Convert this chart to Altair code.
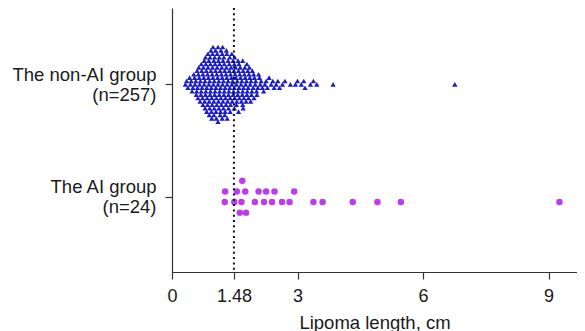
import altair as alt
import pandas as pd

# ---------------- data ----------------
groups = ["The non-AI group", "The AI group"]
group_n = [257, 24]
cutoff = 1.48
x_ticks = [0, 1.48, 3, 6, 9]
x_title = "Lipoma length, cm"

non_ai_values = [
    0.32, 0.35, 0.38,
    0.42, 0.44, 0.46, 0.48,
    0.50, 0.52, 0.54, 0.55, 0.57, 0.58, 0.59,
    0.60, 0.61, 0.62, 0.63, 0.64, 0.65, 0.66, 0.67, 0.68, 0.69,
    0.70, 0.70, 0.71, 0.72, 0.73, 0.74, 0.74, 0.75, 0.76, 0.77, 0.77, 0.78, 0.79, 0.79,
    0.80, 0.80, 0.81, 0.81, 0.82, 0.83, 0.83, 0.84, 0.85, 0.85, 0.86, 0.86, 0.87, 0.88, 0.88, 0.89, 0.89,
    0.90, 0.90, 0.91, 0.91, 0.92, 0.92, 0.93, 0.93, 0.94, 0.94, 0.95, 0.95, 0.96, 0.96, 0.97, 0.97, 0.98, 0.98, 0.99,
    1.00, 1.00, 1.00, 1.01, 1.01, 1.02, 1.02, 1.03, 1.03, 1.04, 1.04, 1.05, 1.05, 1.06, 1.06, 1.07, 1.07, 1.08, 1.08, 1.09,
    1.10, 1.10, 1.10, 1.11, 1.11, 1.12, 1.12, 1.13, 1.13, 1.14, 1.14, 1.15, 1.15, 1.16, 1.16, 1.17, 1.17, 1.18, 1.18, 1.19,
    1.20, 1.20, 1.20, 1.21, 1.21, 1.22, 1.22, 1.23, 1.23, 1.24, 1.24, 1.25, 1.25, 1.26, 1.26, 1.27, 1.27, 1.28, 1.29, 1.29,
    1.30, 1.30, 1.31, 1.31, 1.32, 1.32, 1.33, 1.34, 1.34, 1.35, 1.35, 1.36, 1.37, 1.37, 1.38, 1.38, 1.39, 1.39,
    1.40, 1.40, 1.41, 1.42, 1.43, 1.43, 1.44, 1.45, 1.46, 1.46, 1.47, 1.48, 1.49, 1.49, 1.49,
    1.50, 1.50, 1.51, 1.52, 1.53, 1.54, 1.54, 1.55, 1.56, 1.57, 1.58, 1.58, 1.59, 1.59,
    1.60, 1.60, 1.61, 1.62, 1.63, 1.64, 1.65, 1.66, 1.67, 1.68, 1.69, 1.69, 1.69,
    1.70, 1.70, 1.71, 1.72, 1.73, 1.74, 1.75, 1.76, 1.77, 1.78, 1.79, 1.79,
    1.80, 1.81, 1.82, 1.83, 1.84, 1.85, 1.86, 1.87, 1.88, 1.89,
    1.90, 1.91, 1.92, 1.94, 1.95, 1.96, 1.97, 1.99,
    2.00, 2.02, 2.03, 2.05, 2.07, 2.09,
    2.11, 2.13, 2.16, 2.19,
    2.22, 2.25, 2.28,
    2.32, 2.37,
    2.41, 2.44,
    2.49, 2.53, 2.57, 2.64, 2.70, 2.83, 2.95, 3.00, 3.09, 3.15, 3.18,
    3.31, 3.38, 3.46, 3.85, 6.76,
]

ai_values = [
    1.26, 1.27, 1.49, 1.55, 1.62, 1.66, 1.68, 1.75, 1.77, 1.98, 2.07, 2.20,
    2.25, 2.39, 2.45, 2.63, 2.81, 2.92, 3.38, 3.60, 4.32, 4.91, 5.47, 9.26,
]

# ---------------- layout ----------------
W, H = 405, 264
X_MAX = 9.68
Y_DOM = [0.33, 2.68]
px_x = W / X_MAX
px_y = H / (Y_DOM[1] - Y_DOM[0])


def swarm(values, pitch, min_dx, center_row):
    """Deterministic beeswarm: each point takes the nearest free row slot."""
    if center_row:
        slots = [0]
        for k in range(1, 60):
            slots += [k, -k]
    else:
        slots = []
        for k in range(0, 60):
            slots += [-(k + 0.5), k + 0.5]
    occupied = {}
    offs = [0.0] * len(values)
    for i in sorted(range(len(values)), key=lambda j: values[j]):
        xp = values[i] * px_x
        for s in slots:
            if all(abs(xp - o) >= min_dx for o in occupied.get(s, [])):
                occupied.setdefault(s, []).append(xp)
                offs[i] = s * pitch
                break
    return offs


non_off = swarm(non_ai_values, 3.4, 4.6, True)
ai_off = swarm(ai_values, 10.6, 5.8, False)

df_non = pd.DataFrame({
    "value": non_ai_values,
    "ypos": [2 + o / px_y for o in non_off],
})
df_ai = pd.DataFrame({
    "value": ai_values,
    "ypos": [1 + o / px_y for o in ai_off],
})
df_cut = pd.DataFrame({"value": [cutoff]})

FONT = "Liberation Sans"
TXT = "#1a1a1a"

label_expr = (
    f"datum.value == 2 ? ['{groups[0]}', '(n={group_n[0]})'] : "
    f"datum.value == 1 ? ['{groups[1]}', '(n={group_n[1]})'] : ''"
)

x_enc = alt.X(
    "value:Q",
    scale=alt.Scale(domain=[0, X_MAX], nice=False, zero=True),
    axis=alt.Axis(
        values=x_ticks, labelExpr="'' + datum.value", title=x_title, grid=False,
        labelFlush=False, labelOverlap=False,
        tickSize=7, labelPadding=8, titlePadding=8,
        labelFontSize=18, titleFontSize=18.5, titleFontWeight="normal",
        labelFont=FONT, titleFont=FONT, labelColor=TXT, titleColor=TXT,
        domainColor="#333333", tickColor="#333333", domainWidth=1.2, tickWidth=1.2,
    ),
)
y_enc = alt.Y(
    "ypos:Q",
    scale=alt.Scale(domain=Y_DOM, nice=False, zero=False),
    axis=alt.Axis(
        values=[1, 2], labelExpr=label_expr, title=None, grid=False,
        tickSize=7, labelPadding=9, labelFontSize=18.5, labelLineHeight=20,
        labelOffset=-10,
        labelFont=FONT, labelColor=TXT, labelAlign="right", labelBaseline="middle",
        domainColor="#333333", tickColor="#333333", domainWidth=1.2, tickWidth=1.2,
    ),
)

cut_rule = alt.Chart(df_cut).mark_rule(
    color="#111111", strokeWidth=2, strokeDash=[2, 3.3]
).encode(x=alt.X("value:Q"))

pts_non = alt.Chart(df_non).mark_point(
    shape="triangle-up", filled=True, color="#1c1cc8", size=28, opacity=1, strokeWidth=0
).encode(x=x_enc, y=y_enc)

pts_ai = alt.Chart(df_ai).mark_point(
    shape="circle", filled=True, color="#bb3cef", size=42, opacity=1, strokeWidth=0
).encode(x="value:Q", y="ypos:Q")

chart = alt.layer(pts_non, pts_ai, cut_rule).properties(
    width=W, height=H,
    autosize=alt.AutoSizeParams(type="none"),
    padding={"left": 164, "top": 0, "right": 0, "bottom": 59},
).configure_view(stroke=None)

chart.save("out.html", embed_options={"renderer": "svg", "actions": False})
